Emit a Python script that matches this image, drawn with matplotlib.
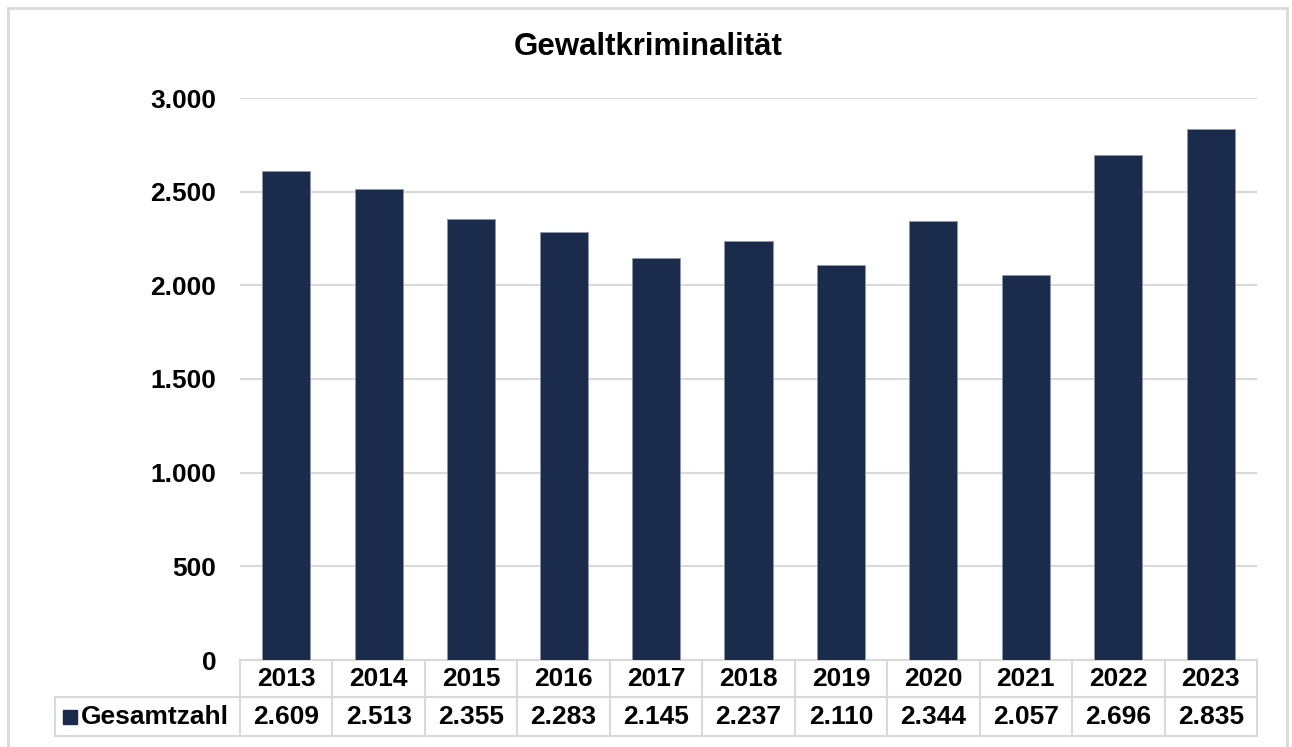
import matplotlib.pyplot as plt
from matplotlib.patches import Rectangle
from matplotlib.lines import Line2D

years = ["2013", "2014", "2015", "2016", "2017", "2018", "2019", "2020", "2021", "2022", "2023"]
values = [2609, 2513, 2355, 2283, 2145, 2237, 2110, 2344, 2057, 2696, 2835]
series_name = "Gesamtzahl"
yticks = [0, 500, 1000, 1500, 2000, 2500, 3000]

bar_color = "#1a2b4c"
grid_color = "#d9d9d9"
font = "Liberation Sans"
fs = 19

W, H = 1292, 747
fig = plt.figure(figsize=(W / 100, H / 100), dpi=100)
plt.rcParams["font.family"] = [font, "DejaVu Sans"]

# outer chart border
fig.patches.append(Rectangle((8 / W, -0.01), (1287 - 8) / W, (H - 8) / H + 0.01,
                             transform=fig.transFigure, fill=False,
                             edgecolor=grid_color, linewidth=2))

left, right, top, bottom = 240, 1257, 98, 660
ax = fig.add_axes([left / W, (H - bottom) / H, (right - left) / W, (bottom - top) / H])

x = range(len(years))
ax.bar(x, values, width=0.52, color=bar_color, edgecolor="#8e98ad", linewidth=0.6, zorder=3)
ax.set_xlim(-0.5, len(years) - 0.5)
ax.set_ylim(0, 3000)
ax.set_yticks(yticks)
ax.set_yticklabels([f"{v:,}".replace(",", ".") for v in yticks], fontsize=fs, fontweight="bold")
ax.tick_params(axis="y", length=0, pad=17)
ax.set_xticks([])
ax.grid(axis="y", color=grid_color, linewidth=1.5, zorder=0)
for s in ax.spines.values():
    s.set_visible(False)

fig.text(648 / W, (H - 47) / H, "Gewaltkriminalität", ha="center", va="center",
         fontsize=22.5, fontweight="bold")

# data table below the axes
ph = bottom - top
row_h = 37 / ph
lw = 1.5
tr = ax.transAxes
n = len(years)
cw = 1.0 / n
# header row
ax.add_patch(Rectangle((0, -row_h), 1, row_h, transform=tr, fill=False,
                       edgecolor=grid_color, linewidth=lw, clip_on=False))
# value row including label column
label_left = (55 - left) / (right - left)
ax.add_patch(Rectangle((label_left, -2 * row_h - 2 / ph), 1 - label_left, row_h + 2 / ph,
                       transform=tr, fill=False, edgecolor=grid_color, linewidth=lw, clip_on=False))
for i in range(1, n):
    ax.add_line(Line2D([i * cw, i * cw], [0, -2 * row_h - 2 / ph], transform=tr,
                       color=grid_color, linewidth=lw, clip_on=False))
ax.add_line(Line2D([0, 0], [-row_h, -2 * row_h - 2 / ph], transform=tr,
                   color=grid_color, linewidth=lw, clip_on=False))
for i, (yr, v) in enumerate(zip(years, values)):
    xc = (i + 0.5) * cw
    ax.text(xc, -row_h / 2, yr, transform=tr, ha="center", va="center",
            fontsize=fs, fontweight="bold")
    ax.text(xc, -1.5 * row_h - 1 / ph, f"{v:,}".replace(",", "."), transform=tr,
            ha="center", va="center", fontsize=fs, fontweight="bold")
sq = 14 / (right - left)
sqh = 14 / ph
ax.add_patch(Rectangle(((63 - left) / (right - left), -1.5 * row_h - 1 / ph - sqh / 2), sq, sqh,
                       transform=tr, color=bar_color, clip_on=False))
ax.text((81 - left) / (right - left), -1.5 * row_h - 1 / ph, series_name, transform=tr,
        ha="left", va="center", fontsize=fs, fontweight="bold")

fig.savefig("out.png", dpi=100)
